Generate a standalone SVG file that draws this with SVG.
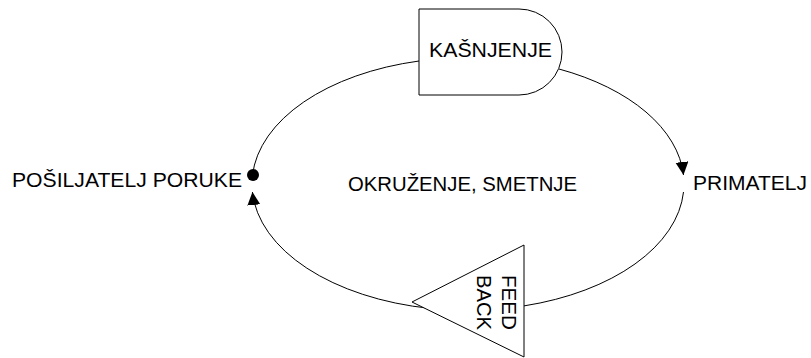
<svg xmlns="http://www.w3.org/2000/svg" width="811" height="358" viewBox="0 0 811 358">
<defs>
<style>
.ln{fill:none;stroke:#000;stroke-width:1}
.shp{fill:#fff;stroke:#000;stroke-width:1}
.t{font-family:"Liberation Sans",Arial,sans-serif;font-size:20px;fill:#000}
</style>
<marker id="ah" markerUnits="userSpaceOnUse" markerWidth="14" markerHeight="14" refX="13" refY="6.5" orient="auto">
<path d="M0,0 L13,6.5 L0,13 Z" fill="#000"/>
</marker>
</defs>
<rect width="811" height="358" fill="#fff"/>
<g id="connectors">
<path class="ln" d="M419,61 A216,126.4 0 0 0 252.5,175"/>
<path class="ln" d="M559,69 A216,126.4 0 0 1 683.5,175" marker-end="url(#ah)"/>
<path class="ln" d="M683.5,192 A216,126.4 0 0 1 524,305.9"/>
<path class="ln" d="M430,308.4 A216,126.4 0 0 1 252.4,192" marker-end="url(#ah)"/>
</g>
<g id="kasnjenje">
<path class="shp" d="M419,9 H519 A43,43 0 0 1 519,95 H419 Z"/>
<text class="t" x="429" y="57" textLength="123" lengthAdjust="spacingAndGlyphs">KAŠNJENJE</text>
</g>
<g id="feedback">
<path class="shp" d="M524,245 L524,357 L412,302 Z"/>
<text class="t" transform="translate(502,275) rotate(90)" textLength="55" lengthAdjust="spacingAndGlyphs">FEED</text>
<text class="t" transform="translate(477,275) rotate(90)" textLength="55" lengthAdjust="spacingAndGlyphs">BACK</text>
</g>
<g id="posiljatelj">
<circle cx="253" cy="175" r="6" fill="#000"/>
<text class="t" x="12" y="187" textLength="230" lengthAdjust="spacingAndGlyphs">POŠILJATELJ PORUKE</text>
</g>
<g id="primatelj">
<text class="t" x="693" y="190" textLength="114" lengthAdjust="spacingAndGlyphs">PRIMATELJ</text>
</g>
<g id="okruzenje">
<text class="t" x="348" y="191" textLength="229" lengthAdjust="spacingAndGlyphs">OKRUŽENJE, SMETNJE</text>
</g>
</svg>
